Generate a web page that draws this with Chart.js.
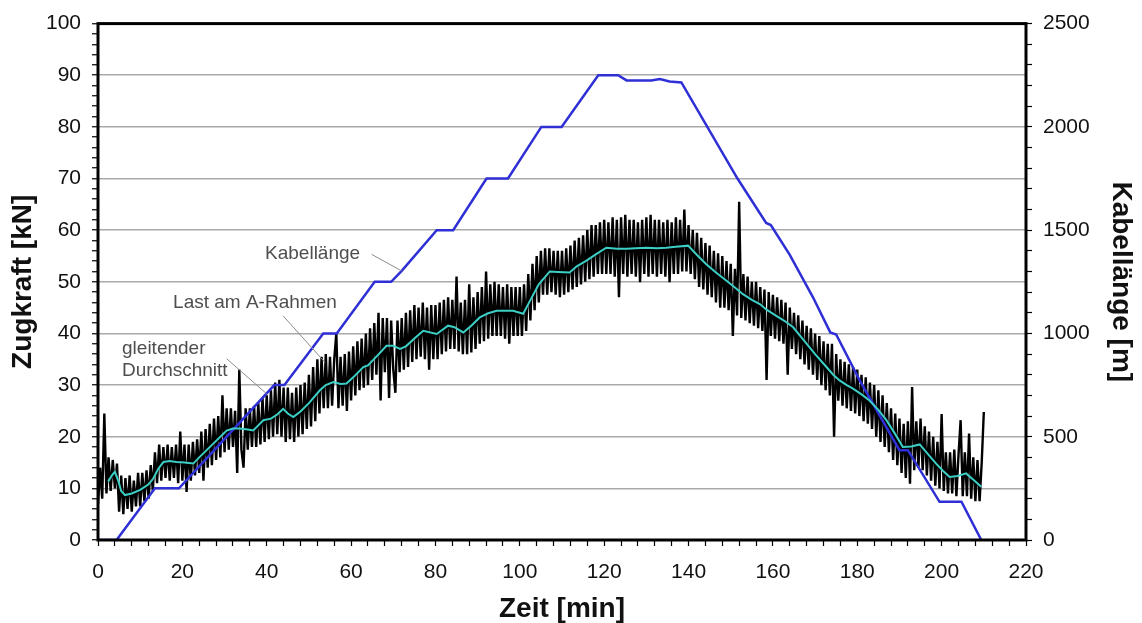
<!DOCTYPE html>
<html>
<head>
<meta charset="utf-8">
<script src="https://cdn.jsdelivr.net/npm/chart.js@4.4.1/dist/chart.umd.min.js"></script>
<style>
  html, body { margin: 0; background: #fff; }
</style>
</head>
<body>
<canvas id="chart" width="1142" height="623"></canvas>
<script>
// Last am A-Rahmen [kN], one reading every 0.5 min from t = 0
const loadStep = 0.5;
const loadValues = [
  7, 14, 8, 24.5, 9, 16, 9.5, 15.5, 10, 14.8, 5.5, 12.5, 5, 12, 6, 12.5, 5.5, 11.5, 6.5, 13,
  6.5, 13, 7.5, 13.5, 8, 14.5, 9.5, 17, 11, 18.5, 11.5, 18, 12, 18.5, 11.5, 18, 12, 18.5, 11, 21,
  11.5, 18.5, 9.3, 18.5, 11.5, 19, 12.5, 19.5, 13, 21, 11.5, 21.5, 14, 22.5, 14.5, 23.5, 15.5, 24, 16, 28,
  17, 25.5, 17.5, 25.5, 18, 25, 13, 33, 17.5, 14, 25.5, 17.5, 25.5, 18, 26, 18, 26.5, 18.5, 27.5, 19,
  28, 19.5, 29, 20, 30.5, 20.5, 31, 20, 29.5, 19, 29.5, 19.5, 28.5, 19, 29.5, 20, 30, 20.5, 30.5, 21.5,
  32, 22, 33.5, 23, 35, 24.5, 35.5, 25.5, 36, 25.5, 35.5, 26, 35, 40, 25.5, 35.5, 26, 36, 25, 36.5,
  27, 37.5, 28, 38.5, 29, 39, 29.5, 40, 30, 41, 31, 42, 32, 44, 27, 43, 32.5, 43, 27.5, 42.5,
  33, 28.5, 42.5, 32.5, 43, 33, 44, 33.5, 44.5, 34.5, 45.5, 35, 45, 35.5, 46, 35, 45, 33, 45.5, 35,
  45.5, 35, 46, 36, 46.5, 36.5, 47, 37, 46.5, 37, 51, 36.5, 46, 36, 46.5, 36, 49.5, 36.3, 47, 37,
  48, 38, 49, 38.5, 52, 39, 49.5, 39.5, 50, 39.5, 49.5, 39.5, 49, 39, 49.5, 38, 49, 39.5, 49, 39.5,
  49, 39.5, 49.5, 40.5, 51.5, 42.5, 53.5, 44.5, 55, 46, 56, 47.5, 56.5, 47.5, 56.5, 48, 56, 47.5, 56, 47,
  56, 47.5, 56.5, 48, 57, 48.5, 58, 49, 58.5, 49.5, 59, 50, 60, 50.5, 61, 51, 61, 51.5, 61.5, 51.5,
  62, 51.5, 61.5, 51.5, 62.5, 51, 62, 47, 62.5, 51.5, 63, 51, 62, 51.5, 62, 51, 61.5, 49.9, 62, 51.5,
  62.5, 51, 63, 51.5, 62, 51, 62, 51.5, 61.5, 51, 62, 49.9, 61.5, 51.5, 62.5, 51.5, 62, 52, 64, 52,
  61, 51.5, 60, 50.5, 59.5, 49, 58.5, 48.5, 57.5, 47.5, 57, 47, 56, 46, 55.5, 45, 55, 45, 54, 44.5,
  53.5, 39.5, 52.5, 43.5, 65.5, 43, 51.5, 42.5, 51, 42, 50, 41.5, 50, 41, 49, 40.5, 48.5, 31, 48, 39.5,
  47.5, 39, 47, 38.5, 46.5, 38, 46, 32, 45, 37, 44, 36, 43.5, 35, 42.5, 34, 41.5, 33, 41, 32,
  40, 31, 39.5, 30, 38.5, 29, 38, 28, 38, 20, 36, 27, 35, 26, 34.5, 25.5, 34, 25, 33.5, 24.5,
  33, 24, 32, 23, 31.5, 22.5, 30.5, 21.5, 30, 20, 29, 19, 28, 18, 26.5, 17, 25.5, 15.5, 24.5, 14.5,
  23.5, 13, 22.5, 12, 23, 10.9, 29.6, 13.5, 23, 14, 23.5, 13.5, 22, 12.5, 21, 11.5, 20, 10.5, 19, 10,
  24.4, 9.5, 17, 9, 17, 9, 17.5, 8.5, 16.5, 23.2, 8.5, 17, 8.5, 20.6, 8, 16, 7.5, 15.5, 7.5, 15,
  24.8
];

// gleitender Durchschnitt [kN]
const avgTime = [2.4, 3.3, 4.0, 4.8, 5.5, 6.4, 8, 10, 12, 13.1, 14.3, 15.5, 17, 18.6, 20.5, 22.6, 24, 26, 28, 30.5,
  32, 33.6, 35.5, 36.8, 38, 39.2, 41, 42.5, 43.9, 45, 46.3, 48, 50, 52.6, 54, 55.8, 57.5, 58.9, 60.5, 62.9,
  64, 66, 68.4, 70, 71.6, 73, 75, 77.1, 80.3, 83, 84.5, 86.6, 88.5, 90.5, 92.5, 94.5, 98.4, 100.8, 102.4, 104.5,
  107.1, 109, 111.8, 113.5, 115.8, 118, 120.5, 123, 125.3, 127.5, 130, 132.5, 134.7, 137, 139.9, 142, 144.2, 146.5, 149, 151,
  152.9, 155, 156.9, 158.5, 160.8, 162.8, 164.8, 167, 170, 172.7, 174.3, 175.8, 177.5, 179, 181, 182.9, 185, 186.9, 189, 190.8,
  192.8, 194.8, 196.8, 198.7, 200.3, 201.9, 203.8, 205.8, 207.6, 209.4];
const avgForce = [11.3, 12.5, 13.2, 11.5, 9.5, 8.7, 9.0, 9.7, 10.8, 11.9, 13.8, 15.1, 15.3, 15.1, 15.0, 14.8, 16, 17.6, 19.2, 21.2,
  21.6, 21.6, 21.4, 21.2, 22.2, 23.2, 23.5, 24.3, 25.4, 24.5, 23.8, 24.9, 26.5, 29, 30, 30.6, 30.2, 30.3, 31.5, 33.5,
  33.8, 35.5, 37.6, 37.6, 37, 37.5, 39, 40.5, 39.9, 41.5, 41.2, 40.2, 41.5, 43.1, 43.9, 44.4, 44.4, 43.8, 46.3, 49.5,
  52, 51.9, 51.8, 53, 54.1, 55.3, 56.6, 56.4, 56.4, 56.5, 56.6, 56.5, 56.6, 56.8, 57.0, 55.2, 53.4, 51.8, 50.2, 48.9,
  47.6, 46.5, 45.7, 44.6, 43.4, 42.4, 41.2, 39, 36, 33.5, 32, 30.9, 30, 29.3, 28.2, 27, 25.2, 23.2, 20.5, 18,
  18.1, 18.5, 16.6, 14.8, 13.4, 12.2, 12.4, 12.9, 11.6, 10.3];

// Kabellänge [m]
const cableTime = [0, 4.4, 13.5, 19.2, 41.8, 44.2, 53.4, 56.6, 65.6, 69.5, 72, 80.3, 84.2, 92.1, 97.2, 105.1, 109.9, 118.6, 123.3, 125.3,
  131.2, 133.2, 135.5, 138.3, 151.6, 158.4, 159.5, 164, 169.5, 173.6, 175, 180.6, 190, 192, 199.5, 204.7, 209.4];
const cableLength = [0, 0, 250, 250, 750, 750, 1000, 1000, 1250, 1250, 1303, 1500, 1500, 1750, 1750, 2000, 2000, 2250, 2250, 2225,
  2225, 2232, 2220, 2215, 1750, 1535, 1525, 1380, 1175, 1005, 995, 772, 435, 435, 185, 185, 0];

const notes = [
  { t: 39.6, f: 55.4, lines: ["Kabellänge"] },
  { t: 17.8, f: 45.9, lines: ["Last am A-Rahmen"] },
  { t: 5.7, f: 37.1, lines: ["gleitender", "Durchschnitt"] },
];
const leaders = [
  [64.9, 55.3, 72.0, 52.1],
  [43.9, 43.4, 53.8, 34.4],
  [30.5, 35.1, 40.0, 28.3],
];

const FONT = '"Liberation Sans", Arial, sans-serif';

const loadData = loadValues.map((v, i) => ({ x: i * loadStep, y: v }));
const avgData = avgTime.map((t, i) => ({ x: t, y: avgForce[i] }));
const cableData = cableTime.map((t, i) => ({ x: t, y: cableLength[i] }));

const framePlugin = {
  id: "frame",
  afterDraw(chart) {
    const { ctx, chartArea: a, scales } = chart;
    ctx.save();
    // Beschriftungen mit Hinweislinien
    ctx.strokeStyle = "#8c8c8c";
    ctx.lineWidth = 1;
    leaders.forEach(([t1, f1, t2, f2]) => {
      ctx.beginPath();
      ctx.moveTo(scales.x.getPixelForValue(t1), scales.y.getPixelForValue(f1));
      ctx.lineTo(scales.x.getPixelForValue(t2), scales.y.getPixelForValue(f2));
      ctx.stroke();
    });
    ctx.font = "19px " + FONT;
    ctx.fillStyle = "#4e4e4e";
    ctx.textBaseline = "middle";
    ctx.textAlign = "left";
    notes.forEach((n) => {
      const x = scales.x.getPixelForValue(n.t);
      const y = scales.y.getPixelForValue(n.f);
      n.lines.forEach((s, i) => ctx.fillText(s, x, y + i * 22));
    });
    // Rahmen
    ctx.strokeStyle = "#000";
    ctx.lineWidth = 3;
    ctx.strokeRect(a.left, a.top, a.width, a.height);
    ctx.restore();
  },
};

new Chart(document.getElementById("chart"), {
  type: "line",
  data: {
    datasets: [
      {
        label: "gleitender Durchschnitt",
        data: avgData,
        borderColor: "#3ccfc6",
        borderWidth: 2,
        yAxisID: "y",
        order: 0,
      },
      {
        label: "Kabellänge",
        data: cableData,
        borderColor: "#2f2fd6",
        borderWidth: 2.5,
        yAxisID: "y2",
        order: 1,
      },
      {
        label: "Last am A-Rahmen",
        data: loadData,
        borderColor: "#000",
        borderWidth: 2.4,
        borderJoinStyle: "bevel",
        yAxisID: "y",
        order: 2,
      },
    ],
  },
  options: {
    responsive: false,
    animation: false,
    devicePixelRatio: 1,
    layout: { padding: { top: 22, left: 0, right: 0, bottom: 0 } },
    elements: { point: { radius: 0 }, line: { tension: 0 } },
    plugins: { legend: { display: false }, tooltip: { enabled: false } },
    scales: {
      x: {
        type: "linear",
        min: 0,
        max: 220,
        afterFit: (s) => { s.height = 83; },
        border: { display: false },
        grid: { drawOnChartArea: false, tickLength: 6, tickColor: "#000", tickWidth: 1.2 },
        ticks: {
          stepSize: 4,
          autoSkip: false,
          maxRotation: 0,
          padding: 14,
          color: "#111",
          font: { family: FONT, size: 21 },
          callback: (v) => (v % 20 === 0 ? v : ""),
        },
        title: {
          display: true,
          text: "Zeit [min]",
          color: "#111",
          font: { family: FONT, size: 28, weight: "bold", lineHeight: 1 },
          padding: { top: 0, bottom: 0 },
        },
      },
      y: {
        position: "left",
        min: 0,
        max: 100,
        afterFit: (s) => { s.width = 98; },
        border: { display: false },
        grid: {
          color: (c) => (c.tick && c.tick.value % 10 === 0 ? "#a9a9a9" : "rgba(0,0,0,0)"),
          lineWidth: 1.5,
          tickLength: 6,
          tickColor: "#000",
          tickWidth: 1.2,
        },
        ticks: {
          stepSize: 2,
          autoSkip: false,
          padding: 11,
          color: "#111",
          font: { family: FONT, size: 21 },
          callback: (v) => (v % 10 === 0 ? v : ""),
        },
        title: {
          display: true,
          text: "Zugkraft [kN]",
          color: "#111",
          font: { family: FONT, size: 28, weight: "bold" },
          padding: { top: 6, bottom: 0 },
        },
      },
      y2: {
        position: "right",
        min: 0,
        max: 2500,
        afterFit: (s) => { s.width = 116; },
        border: { display: false },
        grid: { drawOnChartArea: false, tickLength: 6, tickColor: "#000", tickWidth: 1.2 },
        ticks: {
          stepSize: 100,
          autoSkip: false,
          padding: 11,
          color: "#111",
          font: { family: FONT, size: 21 },
          callback: (v) => (v % 500 === 0 ? v : ""),
        },
        title: {
          display: true,
          text: "Kabellänge [m]",
          color: "#111",
          font: { family: FONT, size: 28, weight: "bold" },
          padding: { top: 4, bottom: 0 },
        },
      },
    },
  },
  plugins: [framePlugin],
});
</script>
</body>
</html>
